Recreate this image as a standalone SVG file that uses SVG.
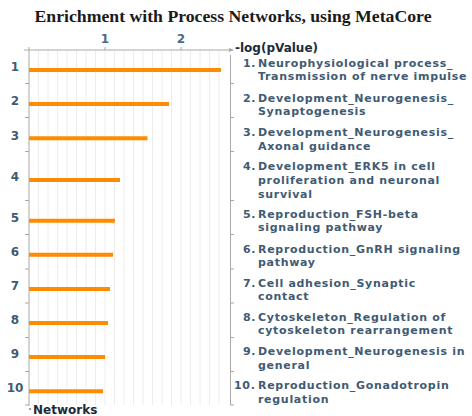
<svg xmlns="http://www.w3.org/2000/svg" width="472" height="416" viewBox="0 0 472 416">
  <style>
    .title { font-family: "Liberation Serif", "Times New Roman", serif; font-weight: bold; font-size: 16px; fill: #1a1a1a; }
    .axislbl { font-family: "DejaVu Sans", Verdana, sans-serif; font-weight: bold; font-size: 12px; fill: #1c2b3a; }
    .tick { font-family: "DejaVu Sans", Verdana, sans-serif; font-weight: bold; font-size: 12px; fill: #4a6a86; }
    .rowno { font-family: "DejaVu Sans", Verdana, sans-serif; font-weight: bold; font-size: 12px; fill: #3f5b74; }
    .name { font-family: "DejaVu Sans", Verdana, sans-serif; font-weight: bold; font-size: 11px; letter-spacing: 0.7px; fill: #3f5b74; }
    .grid { stroke: #ececec; stroke-width: 1; }
    .axis { stroke: #a8a8a8; stroke-width: 1; fill: none; }
    .bar { stroke: #ff8c00; stroke-width: 4; }
  </style>
  <defs>
    <marker id="arrow" viewBox="0 0 6 6" refX="5" refY="3" markerWidth="5" markerHeight="5" orient="auto">
      <path d="M0,0.5 L6,3 L0,5.5 z" fill="#a8a8a8"/>
    </marker>
  </defs>

  <rect width="472" height="416" fill="#ffffff"/>

  <text class="title" x="233" y="22" text-anchor="middle" textLength="397" lengthAdjust="spacingAndGlyphs">Enrichment with Process Networks, using MetaCore</text>

  <!-- vertical gridlines, every 0.125 units -->
  <g id="grid">
    <line class="grid" x1="38.5" y1="50" x2="38.5" y2="405"/>
    <line class="grid" x1="48" y1="50" x2="48" y2="405"/>
    <line class="grid" x1="57.5" y1="50" x2="57.5" y2="405"/>
    <line class="grid" x1="67" y1="50" x2="67" y2="405"/>
    <line class="grid" x1="76.5" y1="50" x2="76.5" y2="405"/>
    <line class="grid" x1="86" y1="50" x2="86" y2="405"/>
    <line class="grid" x1="95.5" y1="50" x2="95.5" y2="405"/>
    <line class="grid" x1="105" y1="50" x2="105" y2="405"/>
    <line class="grid" x1="114.5" y1="50" x2="114.5" y2="405"/>
    <line class="grid" x1="124" y1="50" x2="124" y2="405"/>
    <line class="grid" x1="133.5" y1="50" x2="133.5" y2="405"/>
    <line class="grid" x1="143" y1="50" x2="143" y2="405"/>
    <line class="grid" x1="152.5" y1="50" x2="152.5" y2="405"/>
    <line class="grid" x1="162" y1="50" x2="162" y2="405"/>
    <line class="grid" x1="171.5" y1="50" x2="171.5" y2="405"/>
    <line class="grid" x1="181" y1="50" x2="181" y2="405"/>
    <line class="grid" x1="190.5" y1="50" x2="190.5" y2="405"/>
    <line class="grid" x1="200" y1="50" x2="200" y2="405"/>
    <line class="grid" x1="209.5" y1="50" x2="209.5" y2="405"/>
    <line class="grid" x1="219" y1="50" x2="219" y2="405"/>
  </g>

  <!-- axes -->
  <g id="axes">
    <line class="axis" x1="24" y1="50" x2="233" y2="50" marker-end="url(#arrow)"/>
    <line class="axis" x1="29" y1="47" x2="29" y2="406"/>
    <line class="axis" x1="105" y1="47" x2="105" y2="50"/>
    <line class="axis" x1="181" y1="47" x2="181" y2="50"/>
    <line class="axis" x1="230.5" y1="55" x2="230.5" y2="405"/>
    <path class="axis" d="M25,83.5H29 M25,117.5H29 M25,151.5H29 M25,200.5H29 M25,234.5H29 M25,269H29 M25,303H29 M25,337.5H29 M25,371.5H29 M25,405H29"/>
    <path class="axis" d="M230.5,83.5H234 M230.5,117.5H234 M230.5,151.5H234 M230.5,200.5H234 M230.5,234.5H234 M230.5,269H234 M230.5,303H234 M230.5,337.5H234 M230.5,371.5H234 M230.5,405H234"/>
    <text class="tick" x="105" y="43" text-anchor="middle">1</text>
    <text class="tick" x="181" y="43" text-anchor="middle">2</text>
    <text class="axislbl" x="235" y="52">-log(pValue)</text>
    <text class="axislbl" x="33" y="413.5">Networks</text>
    <circle cx="30" cy="409" r="0.8" fill="#1c2b3a"/>
  </g>

  <!-- bars -->
  <g id="bars">
    <line class="bar" x1="29" y1="70" x2="221" y2="70"/>
    <line class="bar" x1="29" y1="104" x2="169" y2="104"/>
    <line class="bar" x1="29" y1="138.3" x2="147.5" y2="138.3"/>
    <line class="bar" x1="29" y1="180" x2="120" y2="180"/>
    <line class="bar" x1="29" y1="220.7" x2="115" y2="220.7"/>
    <line class="bar" x1="29" y1="254.7" x2="113" y2="254.7"/>
    <line class="bar" x1="29" y1="289" x2="110" y2="289"/>
    <line class="bar" x1="29" y1="323" x2="108" y2="323"/>
    <line class="bar" x1="29" y1="357" x2="105" y2="357"/>
    <line class="bar" x1="29" y1="391.3" x2="103" y2="391.3"/>
  </g>

  <!-- row numbers -->
  <g id="row-numbers">
    <text class="rowno" x="15" y="71" text-anchor="middle">1</text>
    <text class="rowno" x="15" y="105" text-anchor="middle">2</text>
    <text class="rowno" x="15" y="139.5" text-anchor="middle">3</text>
    <text class="rowno" x="15" y="180.5" text-anchor="middle">4</text>
    <text class="rowno" x="15" y="221.5" text-anchor="middle">5</text>
    <text class="rowno" x="15" y="256" text-anchor="middle">6</text>
    <text class="rowno" x="15" y="289.5" text-anchor="middle">7</text>
    <text class="rowno" x="15" y="323.5" text-anchor="middle">8</text>
    <text class="rowno" x="15" y="357.5" text-anchor="middle">9</text>
    <text class="rowno" x="15" y="391.5" text-anchor="middle">10</text>
  </g>

  <!-- network names -->
  <g id="net1"><text class="name" x="243" y="67">1.</text><text class="name" x="258" y="67">Neurophysiological process_</text><text class="name" x="258" y="80">Transmission of nerve impulse</text></g>
  <g id="net2"><text class="name" x="243" y="101.5">2.</text><text class="name" x="258" y="101.5">Development_Neurogenesis_</text><text class="name" x="258" y="115">Synaptogenesis</text></g>
  <g id="net3"><text class="name" x="243" y="136">3.</text><text class="name" x="258" y="136">Development_Neurogenesis_</text><text class="name" x="258" y="150">Axonal guidance</text></g>
  <g id="net4"><text class="name" x="243" y="170">4.</text><text class="name" x="258" y="170">Development_ERK5 in cell</text><text class="name" x="258" y="183.5">proliferation and neuronal</text><text class="name" x="258" y="197.5">survival</text></g>
  <g id="net5"><text class="name" x="243" y="218">5.</text><text class="name" x="258" y="218">Reproduction_FSH-beta</text><text class="name" x="258" y="231">signaling pathway</text></g>
  <g id="net6"><text class="name" x="243" y="252.5">6.</text><text class="name" x="258" y="252.5">Reproduction_GnRH signaling</text><text class="name" x="258" y="266">pathway</text></g>
  <g id="net7"><text class="name" x="243" y="286.5">7.</text><text class="name" x="258" y="286.5">Cell adhesion_Synaptic</text><text class="name" x="258" y="300">contact</text></g>
  <g id="net8"><text class="name" x="243" y="321">8.</text><text class="name" x="258" y="321">Cytoskeleton_Regulation of</text><text class="name" x="258" y="334">cytoskeleton rearrangement</text></g>
  <g id="net9"><text class="name" x="243" y="355">9.</text><text class="name" x="258" y="355">Development_Neurogenesis in</text><text class="name" x="258" y="368.5">general</text></g>
  <g id="net10"><text class="name" x="234" y="389">10.</text><text class="name" x="258" y="389">Reproduction_Gonadotropin</text><text class="name" x="258" y="402.5">regulation</text></g>
</svg>
